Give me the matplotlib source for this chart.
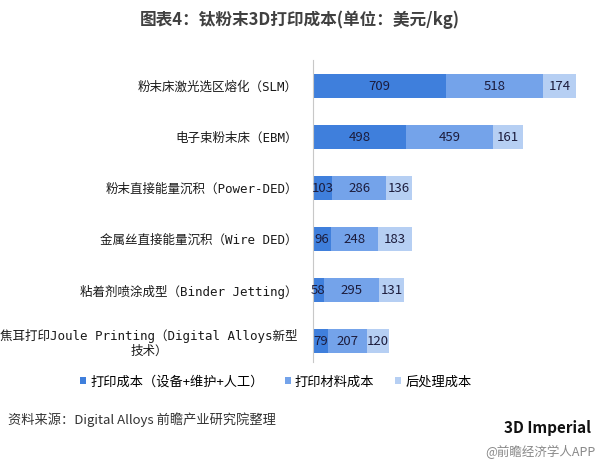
import matplotlib.pyplot as plt
import numpy as np

plt.rcParams['font.family'] = ['Noto Sans CJK SC', 'DejaVu Sans']

categories = ['粉末床激光选区熔化（SLM）', '电子束粉末床（EBM）', '粉末直接能量沉积（Power-DED）',
              '金属丝直接能量沉积（Wire DED）', '粘着剂喷涂成型（Binder Jetting）',
              '焦耳打印Joule Printing（Digital Alloys新型\n技术）']
print_cost = [709, 498, 103, 96, 58, 79]
material_cost = [518, 459, 286, 248, 295, 207]
post_cost = [174, 161, 136, 183, 131, 120]
series_names = ['打印成本（设备+维护+人工）', '打印材料成本', '后处理成本']
colors = ['#3f7fdc', '#74a3ea', '#b6cff3']

fig = plt.figure(figsize=(6, 4.66), dpi=100)
ax = fig.add_axes([313/600, 1-362/466, (592-313)/600, 302/466])

y = np.arange(len(categories))
left = np.zeros(len(categories))
for vals, name, c in zip([print_cost, material_cost, post_cost], series_names, colors):
    bars = ax.barh(y, vals, left=left, height=0.47, color=c, label=name)
    for b, v in zip(bars, vals):
        ax.text(b.get_x() + b.get_width()/2, b.get_y() + b.get_height()/2, str(v),
                ha='center', va='center', fontsize=9.5, color='#1c1c3c')
    left += np.array(vals)

ax.set_xlim(0, (592-313)/0.1877)
ax.set_ylim(5.41, -0.51)
ax.set_yticks(y)
ax.set_yticklabels(categories, fontsize=9, color='#1a1a1a', multialignment='center',
                   family=['DejaVu Sans Mono', 'Noto Sans CJK SC'], fontweight='medium')
ax.tick_params(axis='y', length=0, pad=11)
ax.set_xticks([])
for s in ['top', 'right', 'bottom']:
    ax.spines[s].set_visible(False)
ax.spines['left'].set_color('#c8c8c8')

fig.text(0.5, 1-20/466, '图表4：钛粉末3D打印成本(单位：美元/kg)', ha='center', va='center',
         fontsize=12, color='#404040', fontweight='bold')

handles, labels = ax.get_legend_handles_labels()
fig.legend(handles, labels, loc='center', bbox_to_anchor=(276/600, 1-382/466), ncol=3,
           frameon=False, fontsize=9.5, handlelength=0.45, handleheight=0.45,
           handletextpad=0.3, columnspacing=1.6)

fig.text(8/600, 1-420/466, '资料来源：Digital Alloys 前瞻产业研究院整理', ha='left', va='center',
         fontsize=9.5, color='#333333', style='italic')
fig.text(548/600, 1-428/466, '3D Imperial', ha='center', va='center', fontsize=11,
         color='#111111', fontweight='bold')
fig.text(595/600, 1-452/466, '@前瞻经济学人APP', ha='right', va='center', fontsize=9, color='#888888')

fig.savefig('out.png', dpi=100)
